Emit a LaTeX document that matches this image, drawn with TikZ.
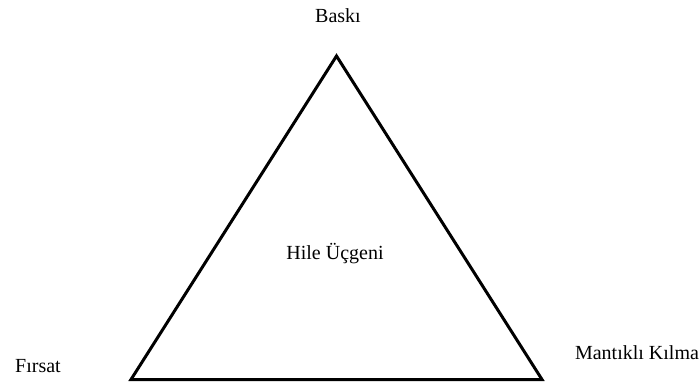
\documentclass[tikz,border=0pt]{standalone}
\usepackage{fontspec}
\setmainfont{Liberation Serif}
\usetikzlibrary{positioning}

\tikzset{
    etiket/.style={font=\fontsize{20}{24}\selectfont, inner sep=0pt},
    kenar/.style={line width=3pt, line join=miter}
}

\begin{document}
\begin{tikzpicture}[x=1pt, y=-1pt]
    \useasboundingbox (0,0) rectangle (699,385);

    % Corners of the triangle
    \coordinate (tepe) at (336.5,56);
    \coordinate (sol) at (131,379.5);
    \coordinate (sag) at (542,379.5);

    % Triangle
    \draw[kenar] (tepe) -- (sol) -- (sag) -- cycle;

    % Labels
    \node[etiket] (baski) at (338,16) {Baskı};
    \node[etiket] (hile) at (335,254) {Hile Üçgeni};
    \node[etiket] (firsat) at (38,366) {Fırsat};
    \node[etiket] (mantik) at (637,353) {Mantıklı Kılma};
\end{tikzpicture}
\end{document}
